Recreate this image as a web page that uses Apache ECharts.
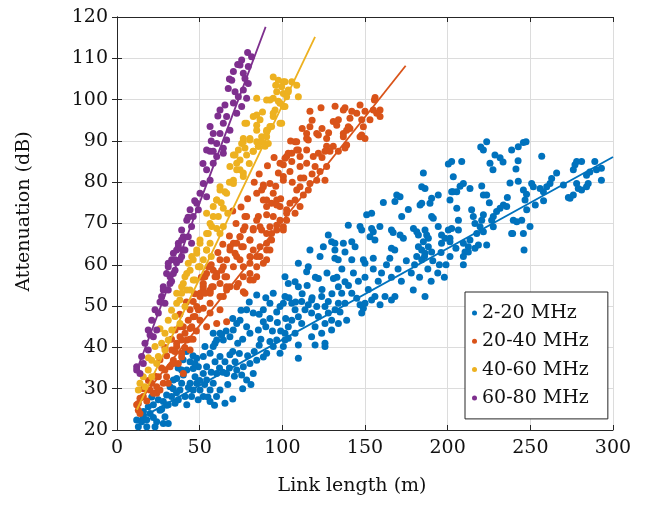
<!DOCTYPE html>
<html>
<head>
<meta charset="utf-8">
<script src="https://cdn.jsdelivr.net/npm/echarts@6/dist/echarts.min.js"></script>
<style>
  html, body { margin: 0; padding: 0; background: #fff; }
  #chart { width: 649px; height: 505px; }
</style>
</head>
<body>
<div id="chart"></div>
<script>
// measured points [link length (m), attenuation (dB)]
var band1 = [
  [13.9,19.6],[12.9,20.8],[11.9,22.4],[14.9,22],[15.9,23.2],[18,20.8],[20,24],[18.9,25.6],[22,26.1],[24,22],
  [23,20.8],[28,21.6],[31,21.6],[29,23.2],[26,24.8],[25,27.3],[28,26.9],[31,26.1],[33,28.1],[35.1,26.5],
  [37.1,27.3],[32.1,30.5],[34.1,32.1],[36.1,32.5],[38.1,29.7],[39.1,31.3],[40.1,33.3],[42.2,34.5],[41.1,28.1],[42.2,26.1],
  [45.1,28.1],[46.1,29.7],[48.2,31.3],[47.2,32.9],[49.1,27.3],[50.2,29.7],[52.2,28.1],[44.2,31.3],[43.2,30.3],[56.3,26.9],
  [60.2,28.1],[65.3,26.5],[62.3,29.7],[56.3,29.7],[58.2,31.3],[54.2,32.1],[52.2,33.7],[49.2,35.3],[46.1,34.9],[44.2,36.5],
  [48.2,37.4],[52.2,37.8],[56.3,38.6],[59.3,36.5],[60.3,33.7],[54.2,35.3],[62.3,37.8],[65.3,36.5],[68.3,38.2],[71.4,36.5],
  [66.3,33.7],[72.4,34.5],[76.4,35.3],[75.4,33.3],[78.4,32.1],[82.4,33.7],[80.4,36.1],[84.5,36.9],[88.5,37.7],[90.5,38.6],
  [94.5,40.2],[92.5,41.4],[96.6,41.8],[98.6,38.6],[100.6,40.2],[103.6,42.2],[101.6,43.4],[58.2,40.2],[60.3,41.8],[62.3,43.4],
  [58.2,43.4],[64.3,41.8],[68.3,42.6],[70.3,44.2],[72.4,45.8],[74.4,46.6],[78.4,45],[80.4,43.4],[85.5,44.2],[88.5,46.2],
  [92.5,47],[96.6,48.6],[98.6,49.9],[100.6,50.7],[92.5,50.7],[94.5,53.1],[84.5,52.7],[88.5,49.1],[82.4,48.3],[78.4,49.1],
  [63.3,43],[53.2,40.2],[59.3,41],[39.1,34.5],[47.2,36.1],[70,27.5],[67,31],[74,38.5],[86,40.5],[30,28.5],
  [64,34],[68,35],[70,39],[73,41],[76,42],[79,38],[83,39],[87,42],[90,45],[94,44],
  [97,46],[99,44],[102,47],[66,44],[70,47],[75,49],[80,51],[86,48],[90,52],[76,30],
  [81,31],[71,33],[62,35],[57,34],[53,31],[50,32],[46,38],[42,39],[40,37],[37,35],
  [34,30],[30,26],[27,25],[22,23],[18,22.5],[16,24.5],[21,28],[36,29],[55,28],[59,26],
  [109.7,37.4],[119.8,40.6],[125.8,41],[125.8,40.2],[101.6,41.8],[107.7,43.4],[109.7,40.6],[117.7,42.6],[123.8,43.4],[119.8,45],
  [125.8,45.8],[129.8,44.2],[113.7,49.1],[117.7,48.3],[120.8,49.9],[121.8,47.5],[127.8,48.3],[131.9,49.1],[133.9,50.7],[137.9,50.7],
  [138.9,46.6],[133.9,45.8],[135.9,53.1],[142,53.1],[148,48.3],[149,49.5],[150,50.7],[154,51.5],[159.1,50.3],[162.1,52.3],
  [168.1,52.3],[179.2,53.9],[186.3,52.3],[105.7,46.6],[103.6,45],[111.7,45.8],
  [101.6,52.3],[105.7,50.7],[107.7,49.1],[109.7,47.4],[111.7,51.1],[115.7,50.3],[117.7,51.5],[123.8,52.3],[125.8,49.9],[127.8,51.1],
  [129.8,46.6],[134.9,48.6],[145,51.9],[147,50.3],[156,52.3],[166,51.5],
  [104,52],[108,51],[112,53],[115,55],[118,52],[120,57],[124,54],[127,58],[130,53],[133,57],
  [136,59],[140,55],[143,58],[146,56],[150,57],[152,54],[155,59],[158,56],[160,58],[163,60],
  [166,57],[170,59],[172,56],[175,61],[178,58],[180,60],[183,57],[186,62],[188,59],[191,61],
  [194,58],[196,63],[199,60],[205,64],[190,56],[195,60],[198,57],
  [107.7,55.9],[109.7,54.7],[101.6,57.1],[103.6,55.5],[121.8,56.7],[130.9,56.7],[133.9,54.7],[137.9,55.9],[116.7,63.6],[122.8,62],
  [115.7,59.5],[114.7,58.3],[109.7,60.4],[127.8,67.2],[129.8,65.6],[131.8,65.2],[124.8,64.4],[131.8,63.6],[131.8,61.6],[133.8,61.2],
  [137.9,63.1],[136.9,65.2],[142,65.6],[144,64.4],[142,61.2],[149,61.2],[150,60.4],[155,61.6],[139.9,69.6],[147,69.3],
  [148,68.4],[154,68.8],[155,68],[153,66.8],[156,66],[159,69.3],[166,68.4],[167,67.8],[171.2,67.2],[173.2,66.4],
  [166,64],[168,63.6],[165,61.6],[179.3,68.8],[181.3,68],[182.3,67.2],[186.3,68.4],[187.3,67.2],[188.3,66.4],[185.3,65.6],
  [194.3,69.3],[196.3,67.2],[198.4,66.4],[200.4,68.4],[201.4,66.4],[201.4,65.6],[196.3,65.2],[182.3,64.4],[184.3,63.6],[186.3,62.8],
  [181.3,62],[184.3,61.2],[188.3,64.4],[190.3,63.1],[151,72.1],[154,72.5],[161.1,75.1],[169.2,76.9],[168.1,75.3],[171.2,76.5],
  [176.2,73.4],[172.2,71.7],[190.3,71.7],[191.3,71.3],[184.3,74.9],[183.3,74.5],[189.3,74.9],[190.3,76.1],[194.3,76.9],[184.3,78.9],
  [186.3,78.5],[185.3,82.2],[200.4,84.4],[202.4,85],[201.4,75.7],[202.4,77.7],
  [223.6,89.8],[221.6,87.8],[220,88.5],[228.6,86.6],[231.7,85.9],[233.5,84.9],[225.6,84.6],[227.4,83],[238.7,87.8],[242.7,88.6],
  [245.8,89.6],[247.4,89.8],[242.6,85.2],[241.3,83.2],[256.9,86.3],[208.5,85],[203.4,81.3],[209.5,79.7],[207.5,79],[205.5,77.7],
  [203.2,77.7],[213.5,78.5],[220.6,79.1],[221.6,76.9],[223.6,76.9],[225.2,75],[237.7,79.8],[242.7,80.2],[236.1,76.3],[245.8,78.1],
  [247.7,77.1],[246.8,75.7],[250.8,79.7],[251.8,78.9],[255.9,78.5],[257.9,77.7],[259.9,78.9],[261.9,79.7],[265.9,82.2],[262.9,80.9],
  [270,79.3],[273,76.3],[274,76.1],[276,76.9],[276,83],[277,84.2],[278,85],[281,85],[278,79.7],[279,78.5],
  [281,78.1],[284,78.9],[285,79.7],[284,81.7],[286,82.5],[289,85],[290,83],[293,83.4],[293,80.5],[247.8,73.3],
  [244.8,70.8],[245.8,67.6],[246.2,63.6],[249.8,69.3],[239.7,70.8],[241.8,70.4],[239.3,67.6],[233.7,74.5],[235.7,74.1],[231.7,73.7],
  [229.6,72.9],[227.6,71.7],[226.6,70.8],[227.6,69.2],[221.6,72.1],[220.6,70.8],[219.6,69.2],[221.6,68],[217.6,67.6],[216.5,70],
  [215.5,71.7],[214.5,73.3],[213.5,66],[212.5,64.4],[209.5,65.2],[210.5,63.1],[212.5,63.1],[216.5,64],[218.6,64.8],[223.6,64.8],
  [209.5,62],[209.5,60],[201.4,62],[205.5,73.7],[206.5,70.8],[206.5,68.4],[202.4,68.8],[238.7,67.6],[253,74.5],[258,75.5]
];
var band2 = [
  [156.1,100.5],[155.7,99.9],[159.1,97.5],[159.1,95.9],[157.1,96.7],[155,97.5],[153,95.1],[150,97.2],[148,95.1],[147,98.7],
  [145,96.7],[142,97.2],[140.9,95.5],[137.9,98],[136.9,97.5],[133.9,95.1],[131.9,98.4],[130.8,94.7],[132.9,93.8],[139.9,93.4],
  [138.9,92.6],[140.9,93],[136.9,91.8],[136.9,91],[149,93.4],[148,91.4],[150,90.6],[147,91],[138.9,89],[137.9,88.3],
  [130.8,88.7],[126.8,88.7],[125.8,87.5],[121.8,91.4],[123.4,98],[116.7,97.2],[116.7,93.4],[114.7,91.8],[115.7,90.2],[114.7,87.8],
  [109.7,87.8],[107.7,89.8],[105.7,87],[128.8,87.5],[133.9,87.5],
  [120.8,91.8],[114.7,90.6],[108.7,89.8],[126.8,90.6],[103.6,87],[108.7,87.8],[110.7,86.2],[101.6,85.8],[105.7,85],[100.6,84.2],
  [97.6,82.2],[100.6,80.5],[104.6,82.6],[110.7,83.8],[114.7,84.6],[118.7,86.2],[121.8,87],[119.8,83.8],[122.8,82.6],[126.8,83.8],
  [125.8,80.5],[120.8,80.5],[116.7,79.7],[115.7,78.1],[110.7,78.9],[112.7,76.9],[108.7,78.1],[107.7,75.7],[110.7,74.1],[104.6,74.9],
  [102.6,73.3],[107.7,72.5],[98.6,74.1],[96.6,75.7],[93.5,74.9],[90.5,74.1],[88.5,75.7],[87.5,78.1],[88.5,79.3],[94.5,71.7],
  [98.6,70.8],[102.6,70.8],[100.6,69.2],[96.6,68.4],[92.5,69.2],[90.5,67.6],[93.5,66],[86.5,69.2],[85.5,71.7],[82.4,68.4],
  [78.4,71.7],[77.4,69.2],[80.4,66],[74.4,66.8],[76.4,64.4],[70.4,65.2],[68.4,64.4],[71.4,62.8],[62.3,61.2],[58.2,58.7],
  [60.3,57.1],[54.2,57.9],[52.2,54.7],[56.3,53.9],[65.3,57.1],[66.3,54.7],[70.4,59.5],[74.4,61.2],[80.4,62],[86.5,62],
  [88.5,60.4],[90.5,63.6],[80.4,57.9],[82.4,56.3],[72.4,54.7],[77.4,53.1],[64.3,52.3],[50.2,52.3],
  [98.6,84.6],[100.6,81.4],[102.6,86.2],[88.5,78.9],[92.5,79.7],[90.5,75.7],[94.5,77.3],[96.6,74.5],[90.5,72.1],[84.5,70.8],
  [82.4,68.8],[87.5,68.4],[93.5,67.6],[96.6,69.6],[100.6,68.4],[102.6,72.5],[84.5,77.3],[77.4,71.7],[76.4,68.4],[74.4,66.8],
  [72.4,65.2],[75.4,64.4],[80.4,66],[82.4,63.6],[84.5,62],[86.5,64.4],[90.5,65.2],[92.5,63.6],[90.5,61.2],[84.5,59.5],
  [80.4,60.4],[76.4,59.5],[72.4,62],[68.3,63.6],[66.3,61.2],[64.3,59.5],[60.3,57.9],[66.3,57.1],[62.3,55.5],[58.2,54.7],
  [56.3,53.1],[52.2,53.9],[68.3,54.7],[73.4,55.5],[76.4,57.1],[80.4,56.3],[84.5,57.1],
  [50.2,53.1],[56.3,53.5],[62.3,52.3],[66.3,53.9],[76.4,53.5],[56.3,50.7],[52.2,49.5],[48.2,49.9],[46.1,47.4],[50.2,46.6],
  [56.3,48.3],[62.3,49.1],[66.3,46.2],[60.3,45.8],[54.2,45],[44.2,44.6],[40.1,45],[38.1,42.6],[42.2,41.8],[36.1,40.2],
  [39.1,38.6],[44.2,39.4],[34.1,36.9],[32.1,35.3],[30,32.9],[28,31.3],[26,29.7],[24,28.9],[20,29.7],[21,31.3],
  [13.9,27.7],[15.9,28.1],[11.9,26.1],[12.9,24.8],[13.9,24],[12.9,26.4],[22,28.9],[24,30.5],[31,31.3],[25,32.9],
  [29,34.5],[34.1,36.1],[37.1,36.1],[39.1,37.7],[40.1,33.7],[33.1,39.4],[36.1,41],[39.1,41.8],[35.1,44.2],[38.1,45],
  [41.1,43.4],[45.2,45],[43.1,46.6],[47.2,47.5],[44.2,49.1],[49.2,49.1],[46.1,51.1],[53.2,53.1],[57.3,54.7],[59.3,57.1],
  [63.3,58.7],[53.2,57.1],[55.2,59.5],[52.2,55.5],
  [18,27],[16,30],[19,32],[23,33],[27,35],[26,37],[30,38],[33,42],[29,40],[35,39],
  [41,40],[46,42],[48,44],[44,42],[38,48],[42,51],[47,53],[51,57],[57,60],[61,63],
  [64,65],[68,67],[72,70],[70,73],[75,74],[79,76],[83,80],[86,82],[91,84],[95,86],
  [105,90],[112,93],[118,95],[124,93],[128,92],[113,81],[118,82],[124,86],[96,79],[99,76],
  [106,80],[111,81]
];
var band3 = [
  [94.5,105.5],[97.6,104.7],[100.6,104.3],[99.6,103.1],[96.6,101.9],[100.6,101.5],[103.6,102.3],[94.5,100.3],[90.5,99.9],[84.5,100.3],
  [97.6,99.6],[100.6,98.3],[95.6,97.5],[94.5,95.9],[99.6,94.3],[92.5,93.5],[90.5,92.6],[84.5,96.3],[82.4,95.9],[84.5,93.8],
  [78.4,94.3],[80.4,90.6],[76.4,90.6],[75.4,89.4],[84.5,89.8],[87.5,91],[90.5,91],[89.5,88.7],[91.5,89.4],[85.5,88.7],
  [82.4,87.5],[77.4,88.3],[73.4,87.8],[71.4,86.6],
  [101.6,104.3],[105.7,104.3],[108.7,103.5],[109.7,100.7],[103.6,101.9],[102.6,100.7],[101.6,98.3],
  [92.5,99.9],[98.6,99.1],[94.5,96.7],[98.6,94.3],[93.5,93.5],[86.5,95.1],[84.5,92.6],[77.4,94.3],[80.4,90.2],[76.4,89.8],
  [87.5,89.8],[85.5,88.7],[90.5,92.2],[82.4,87.5],[78.4,86.6],[70.4,86.6],[72.4,84.6],[74.4,83],[68.3,83.8],[76.4,81.4],
  [70.4,80.5],[62.3,78.9],[65.3,77.7],[60.3,75.7],[58.2,74.1],[54.2,72.5],[61.3,71.7],[64.3,69.3],[57.3,69.3],[55.2,67.6],
  [62.3,67.6],[50.2,65.2],[54.2,63.6],[52.2,61.2],[50.2,59.5],
  [74.4,85.4],[72.4,83],[76.4,82.2],[70.4,79.7],[62.3,78.1],[66.3,77.3],[60.3,75.7],[64.3,73.7],[58.2,71.7],[56.3,70],
  [60.3,68.8],[54.2,67.6],[50.2,66],[56.3,65.2],[54.2,63.6],[48.2,62.8],[46.1,61.2],[50.2,59.5],[44.2,58.7],[41.1,57.1],
  [46.1,56.3],[39.1,54.7],[42.2,53.9],[36.1,53.1],
  [48.2,63.6],[45.2,62],[43.1,60.4],[49.2,59.5],[42.2,57.9],[47.2,56.3],[40.1,55.5],[39.1,53.1],[44.2,53.9],[36.1,50.7],
  [41.1,49.9],[35.1,47.5],[31,46.6],[38.1,45.8],[33.1,44.2],[29,43.4],[31,41.8],[27,41],[23,40.2],[29,39.4],
  [25,37.8],[21,36.9],[24,36.1],[18.9,34.5],[15.9,32.9],[21,32.9],[13.9,31.3],[12.9,29.7],[16.9,30.5],[19,37.5],
  [26,44.5],[33,49],[38,51.5],[57,62],[67,72.5],[68,80],[80,84.5],[88,97],[96,103.5],[63,75]
];
var band4 = [
  [79,111.4],[81.4,110.4],[75.4,109.6],[74.4,108.4],[79.4,108],[76.4,106.4],[70.4,106.8],[69.4,104.7],[77.4,105.1],[79.4,103.9],
  [67.3,102.7],[71.4,101.9],[76.4,102.3],[73.4,100.7],[78.4,100.3],[70.4,99.2],[65.3,98.7],[62.3,97.5],[75.4,98.3],[72.4,96.7],
  [66.3,95.9],[64.3,94.3],[56.3,93.5],[58.2,91.8],[62.3,91.8],[68.3,92.6],[66.3,90.2],[60.3,89.4],[54.2,87.8],[64.3,88.2],
  [58.2,87.5],
  [56.3,87.5],[60.3,86.2],[64.3,87],[58.2,84.6],[54.2,83],[56.3,80.5],[52.2,79.7],[50.2,77.3],[54.2,76.5],[48.2,74.9],
  [44.2,73.3],[49.2,73.3],[46.1,71.7],[42.2,70.8],[45.1,69.3],[39.1,68.4],[40.1,66.8],[37.1,65.2],[36.1,63.6],[40.1,63.6],
  [34.1,62.8],[33.1,61.2],[38.1,61.2],[31,59.5],[35.1,58.7],[32.1,57.1],[28,54.7],[31,53.9],
  [39.1,66],[43.1,66.8],[37.1,64.4],[41.1,63.6],[45.1,65.2],[31,60.4],[35.1,61.2],[39.1,62],[34.1,57.9],[30,57.9],
  [32.1,55.5],[28,53.9],[27,52.3],[29,50.7],[23,49.1],[25,48.3],[21,46.6],[18.9,44.2],[24,44.2],[22,42.6],
  [16.9,41],[18.9,39.4],[14.9,37.8],[11.9,35.3],[13.9,33.7],[15.9,36.1],[11.9,34.5],[20,43],[26,51],[47,75.5],
  [52,84.5],[61,96],[68,105],[73,108.5],[57,90],[43,71.5],[36,60.5],[33,56]
];
// fitted lines, end points
var fit1 = [[12, 22.4], [300, 86.1]];
var fit2 = [[12, 26.2], [174.6, 108.2]];
var fit3 = [[12, 24.9], [119.8, 115.2]];
var fit4 = [[12, 34.5], [89.9, 117.6]];
var bandNames = ['2-20 MHz', '20-40 MHz', '40-60 MHz', '60-80 MHz'];
var bandColors = ['#0072BD', '#D95319', '#EDB120', '#7E2F8E'];

var chart = echarts.init(document.getElementById('chart'), null, {renderer: 'canvas'});
var font = 'DejaVu Serif';
var bands = [band1, band2, band3, band4];
var fits = [fit1, fit2, fit3, fit4];
var series = [];
for (var i = 0; i < 4; i++) {
  series.push({
    name: bandNames[i],
    type: 'scatter',
    data: bands[i],
    symbolSize: 7,
    itemStyle: {color: bandColors[i], opacity: 1},
    z: 2 + i * 2
  });
  series.push({
    name: 'fit ' + bandNames[i],
    type: 'line',
    data: fits[i],
    symbol: 'none',
    silent: true,
    lineStyle: {color: bandColors[i], width: 1.8},
    z: 3 + i * 2
  });
}

var gridColor = '#dcdcdc';
var axisColor = '#262626';
var option = {
  animation: false,
  textStyle: {fontFamily: font},
  grid: {left: 117, right: 36, top: 17, bottom: 75},
  legend: {
    data: bandNames,
    orient: 'vertical',
    left: 465,
    top: 292,
    icon: 'circle',
    itemWidth: 5,
    itemHeight: 5,
    itemGap: 6.3,
    itemTextGap: 4,
    padding: [10, 19, 10, 7],
    backgroundColor: '#fff',
    borderColor: axisColor,
    borderWidth: 1,
    textStyle: {fontFamily: font, fontSize: 19, color: '#111', lineHeight: 22}
  },
  xAxis: [{
    type: 'value', min: 0, max: 300, interval: 50,
    name: 'Link length (m)', nameLocation: 'middle', nameGap: 47,
    nameTextStyle: {fontFamily: font, fontSize: 19, color: '#111', padding: [0, 26, 0, 0]},
    axisLine: {lineStyle: {color: axisColor, width: 1}},
    axisTick: {inside: true, length: 5, lineStyle: {color: axisColor}},
    axisLabel: {fontFamily: font, fontSize: 19, color: '#111', margin: 9},
    splitLine: {show: true, lineStyle: {color: gridColor, width: 1}}
  }, {
    type: 'value', min: 0, max: 300, interval: 50, position: 'top',
    axisLine: {lineStyle: {color: axisColor, width: 1}},
    axisTick: {inside: true, length: 5, lineStyle: {color: axisColor}},
    axisLabel: {show: false},
    splitLine: {show: false}
  }],
  yAxis: [{
    type: 'value', min: 20, max: 120, interval: 10,
    name: 'Attenuation (dB)', nameLocation: 'middle', nameGap: 83,
    nameTextStyle: {fontFamily: font, fontSize: 19, color: '#111', padding: [0, 0, 0, 24]},
    axisLine: {show: true, lineStyle: {color: axisColor, width: 1}},
    axisTick: {show: true, inside: true, length: 5, lineStyle: {color: axisColor}},
    axisLabel: {fontFamily: font, fontSize: 19, color: '#111', margin: 9},
    splitLine: {show: true, lineStyle: {color: gridColor, width: 1}}
  }, {
    type: 'value', min: 20, max: 120, interval: 10, position: 'right',
    axisLine: {show: true, lineStyle: {color: axisColor, width: 1}},
    axisTick: {show: true, inside: true, length: 5, lineStyle: {color: axisColor}},
    axisLabel: {show: false},
    splitLine: {show: false}
  }],
  series: series
};
chart.setOption(option);
window.addEventListener('resize', function () { chart.resize(); });
</script>
</body>
</html>
